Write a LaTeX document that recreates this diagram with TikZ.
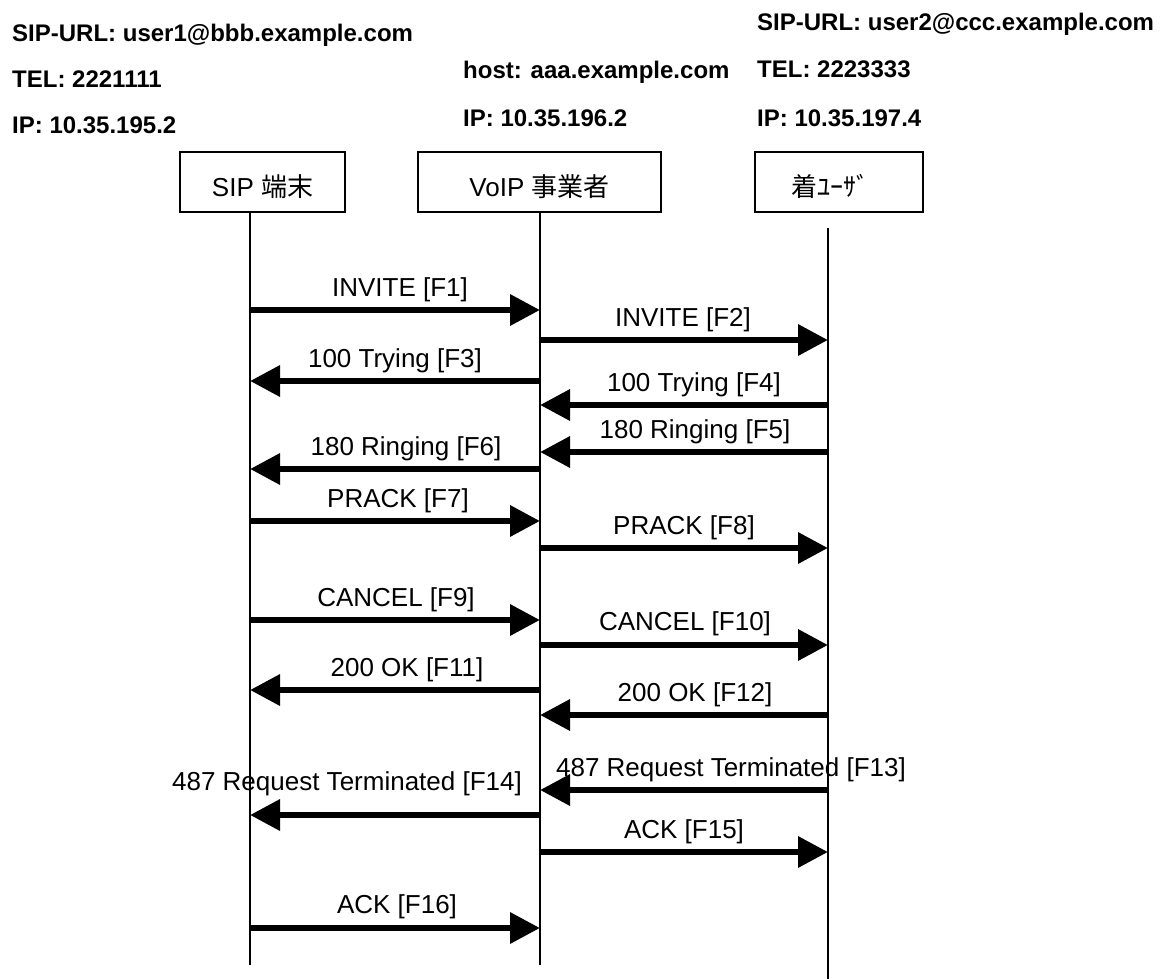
\documentclass[tikz,border=0pt]{standalone}
\usepackage{fontspec}
\setmainfont{Liberation Sans}
\newfontfamily\jp{Noto Sans CJK JP}
\usetikzlibrary{arrows.meta, positioning}

\tikzset{
  hdr/.style={anchor=base west, inner sep=0pt, font=\fontsize{24}{28}\selectfont\bfseries},
  actor/.style={draw, line width=1.5pt, minimum height=60pt, inner sep=0pt,
    text height=28pt, text depth=0pt, font=\fontsize{26}{30}\selectfont},
  life/.style={line width=1.2pt},
  msg/.style={line width=6.5pt, -{Triangle[length=30pt,width=30pt]}},
  lbl/.style={anchor=base, inner sep=0pt, font=\fontsize{26}{30}\selectfont},
}

\begin{document}
\begin{tikzpicture}[x=1pt, y=-1pt]
  \useasboundingbox (0,0) rectangle (1166,979);
  % address blocks
  \node[hdr] (urlUe) at (12,42) {SIP-URL: user1@bbb.example.com};
  \node[hdr] (telUe) at (12,88) {TEL: 2221111};
  \node[hdr] (ipUe) at (12,133) {IP: 10.35.195.2};
  \node[hdr] (hostSv) at (463,79) {host: aaa.example.com};
  \node[hdr] (ipSv) at (463,127) {IP: 10.35.196.2};
  \node[hdr] (urlUa) at (757,31) {SIP-URL: user2@ccc.example.com};
  \node[hdr] (telUa) at (757,78) {TEL: 2223333};
  \node[hdr] (ipUa) at (757,126) {IP: 10.35.197.4};
  % entities
  \node[actor, minimum width=165pt] (ue) at (262.5,182) {SIP {\jp 端末}};
  \node[actor, minimum width=243pt] (voip) at (539.5,182) {VoIP {\jp 事業者}};
  \node[actor, minimum width=168pt] (ua) at (839,182) {{\jp 着ﾕｰｻﾞ}\hspace*{18pt}};
  % lifelines
  \coordinate (ueEnd) at (250,965);
  \coordinate (voipEnd) at (540,965);
  \coordinate (uaTop) at (828,228);
  \coordinate (uaEnd) at (828,979);
  \draw[life] (ue.south -| ueEnd) -- (ueEnd);
  \draw[life] (voip.south -| voipEnd) -- (voipEnd);
  \draw[life] (uaTop) -- (uaEnd);
  % messages
  \foreach \n/\sx/\ex/\yy/\lx/\ly/\txt in {
    1/250/540/310/400/296/{INVITE [F1]},
    2/540/828/340/683/326/{INVITE [F2]},
    3/540/250/381/395/367/{100 Trying [F3]},
    4/828/540/405/694/391/{100 Trying [F4]},
    5/828/540/452/695/438/{180 Ringing [F5]},
    6/540/250/469/406/455/{180 Ringing [F6]},
    7/250/540/521/398/507/{PRACK [F7]},
    8/540/828/548/684/534/{PRACK [F8]},
    9/250/540/620/396/606/{CANCEL [F9]},
    10/540/828/645/685/630/{CANCEL [F10]},
    11/540/250/690/407/676/{200 OK [F11]},
    12/828/540/715/695/701/{200 OK [F12]},
    13/828/540/790/731/776/{487 Request Terminated [F13]},
    14/540/250/815/347/790/{487 Request Terminated [F14]},
    15/540/828/852/684/838/{ACK [F15]},
    16/250/540/928/397/913/{ACK [F16]}} {
    \coordinate (s\n) at (\sx,\yy);
    \coordinate (e\n) at (\ex,\yy);
    \draw[msg] (s\n) -- (e\n);
    \node[lbl] (f\n) at (\lx,\ly) {\txt};
  }
\end{tikzpicture}
\end{document}
